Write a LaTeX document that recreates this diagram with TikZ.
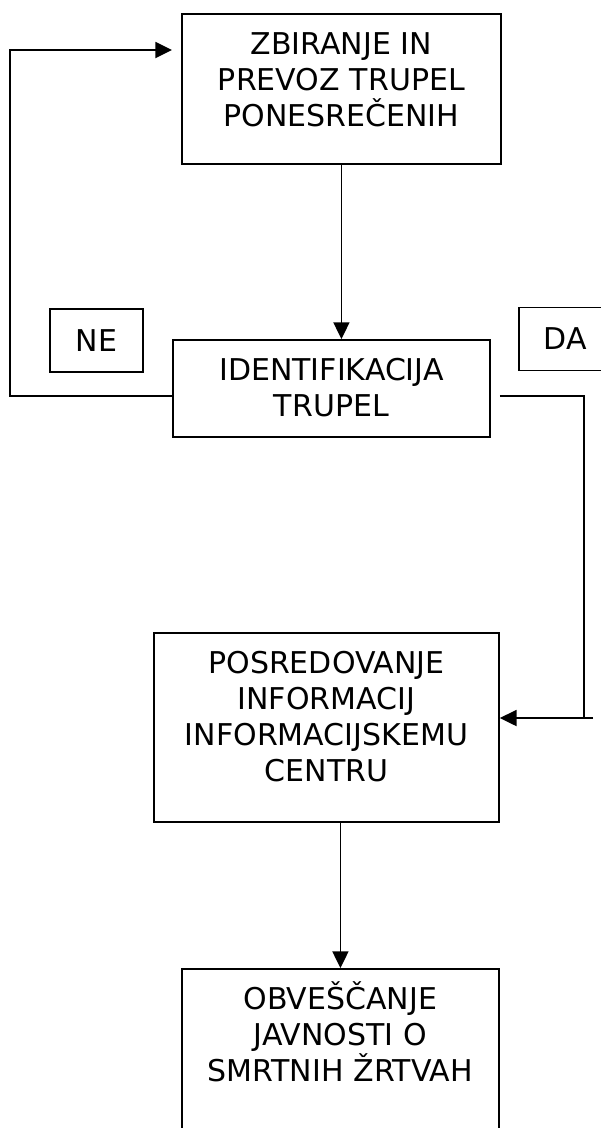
\documentclass[tikz,border=0pt]{standalone}
\usepackage{fontspec}
\setmainfont{DejaVu Sans}
\usepackage{tikz}
\usetikzlibrary{arrows.meta,positioning,calc}

\begin{document}
\begin{tikzpicture}[
    x=0.75pt, y=-0.75pt,
    line width=1.4pt,
    font=\fontsize{22.5pt}{27pt}\selectfont,
    box/.style={rectangle, draw, anchor=north west, inner sep=0pt, align=center, text height=30.5pt},
    tag/.style={rectangle, draw, inner sep=0pt, minimum width=69.5pt, minimum height=47.25pt},
    arr/.style={-{Triangle[length=12.5pt,width=12pt]}}
]
    \useasboundingbox (0,0) rectangle (600,1128);

    \node[box, text width=239.25pt, text depth=82pt] (zbir) at (181,13)
        {ZBIRANJE IN\\PREVOZ TRUPEL\\PONESREČENIH};
    \node[box, text width=237.75pt, text depth=42.25pt] (ident) at (172,339)
        {IDENTIFIKACIJA\\TRUPEL};
    \node[box, text width=258.75pt, text depth=111.25pt] (posred) at (153,632)
        {POSREDOVANJE\\INFORMACIJ\\INFORMACIJSKEMU\\CENTRU};
    \node[box, text width=237.75pt, text depth=111.25pt] (obves) at (181,968)
        {OBVEŠČANJE\\JAVNOSTI O\\SMRTNIH ŽRTVAH};

    \node[tag] (ne) at (96.5,340.5) {NE};
    \node[tag] (da) at (565,339) {DA};

    \coordinate (ne1) at (10,396);
    \coordinate (ne2) at (10,50);
    \coordinate (da1) at (584,396);
    \coordinate (da2) at (584,718);
    \coordinate (da3) at (593,718);

    \draw[arr] (zbir.south) -- (zbir.south |- ident.north);
    \draw[arr, shorten >=6.75pt] (ne1 -| ident.west) -- (ne1) -- (ne2) -- (ne2 -| zbir.west);
    \draw[shorten <=6.75pt] (da1 -| ident.east) -- (da1) -- (da2);
    \draw[arr] (da3) -- (da3 -| posred.east);
    \draw[arr] (posred.south -| obves.north) -- (obves.north);
\end{tikzpicture}
\end{document}
